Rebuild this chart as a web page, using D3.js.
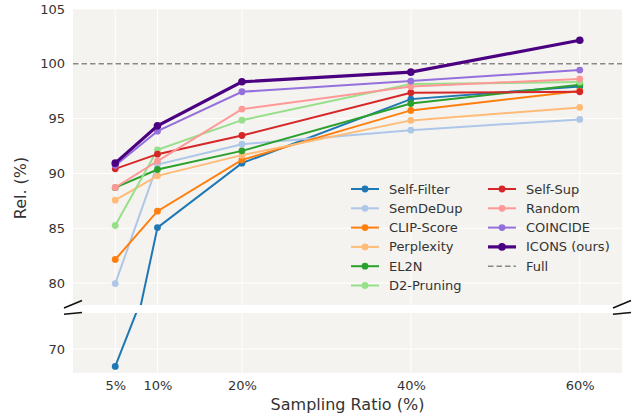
<!DOCTYPE html>
<meta charset="utf-8" />
<script src="https://cdn.jsdelivr.net/npm/d3@7"></script>
<style>
  body { margin: 0; background: #fff; }
  svg text { font-family: "DejaVu Sans", sans-serif; }
</style>
<div id="chart"></div>
<script>
    // sampling ratios (%)
    const ratios = [5, 10, 20, 40, 60];
    const xTicks = ["5%", "10%", "20%", "40%", "60%"];

    const methods = ["Self-Filter", "SemDeDup", "CLIP-Score", "Perplexity", "EL2N",
        "D2-Pruning", "Self-Sup", "Random", "COINCIDE", "ICONS (ours)"];

    const selfFilter = [67.1, 85.06, 90.94, 96.78, 97.93];
    const semDeDup   = [79.95, 90.81, 92.67, 93.95, 94.93];
    const clipScore  = [82.15, 86.56, 91.24, 95.75, 97.52];
    const perplexity = [87.56, 89.78, 91.67, 94.84, 96.02];
    const el2n       = [88.70, 90.36, 92.06, 96.38, 98.10];
    const d2Pruning  = [85.25, 92.15, 94.86, 98.16, 98.33];
    const selfSup    = [90.42, 91.76, 93.46, 97.36, 97.45];
    const random     = [88.72, 91.12, 95.87, 97.93, 98.62];
    const coincide   = [90.72, 93.86, 97.45, 98.43, 99.43];
    const icons      = [90.94, 94.34, 98.36, 99.24, 102.15];
    const full = 100;

    const topTicks = [80, 85, 90, 95, 100, 105];
    const bottomTicks = [70];

    const colors = ["#1f77b4", "#aec7e8", "#ff7f0e", "#ffbb78", "#2ca02c",
        "#98df8a", "#d62728", "#ff9896", "#9370db", "#4b0082"];

    const series = [selfFilter, semDeDup, clipScore, perplexity, el2n,
        d2Pruning, selfSup, random, coincide, icons].map((vals, i) => ({
            name: methods[i], color: colors[i], ours: i === 9,
            points: vals.map((v, j) => ({ r: ratios[j], v: v }))
        }));

    const width = 639, height = 414;
    const left = 73, right = 622;

    const svg = d3.select("#chart").append("svg")
        .attr("width", width).attr("height", height);

    const x = d3.scaleLinear().domain([0, 65]).range([left, right]);
    const yTop = d3.scaleLinear().domain([78, 105]).range([305, 9]);
    const yBot = d3.scaleLinear().domain([66, 76]).range([373, 313]);

    const panels = [{ y: yTop, ticks: topTicks, id: "clipTop" },
                    { y: yBot, ticks: bottomTicks, id: "clipBot" }];

    const defs = svg.append("defs");

    panels.forEach(p => {
        const [y0, y1] = p.y.range();
        defs.append("clipPath").attr("id", p.id)
            .append("rect").attr("x", left).attr("y", y1)
            .attr("width", right - left).attr("height", y0 - y1);

        const g = svg.append("g");
        g.append("rect")
            .attr("x", left).attr("y", y1)
            .attr("width", right - left).attr("height", y0 - y1)
            .attr("fill", "#f4f3f0");

        // grid
        g.selectAll(".hg").data(p.ticks).join("line")
            .attr("x1", left).attr("x2", right)
            .attr("y1", d => p.y(d)).attr("y2", d => p.y(d))
            .attr("stroke", "#ffffff").attr("stroke-width", 1);
        g.selectAll(".vg").data(ratios).join("line")
            .attr("x1", d => x(d)).attr("x2", d => x(d))
            .attr("y1", y1).attr("y2", y0)
            .attr("stroke", "#ffffff").attr("stroke-width", 1);

        // y axis
        const ax = g.append("g")
            .attr("transform", `translate(${left - 4},0)`)
            .call(d3.axisLeft(p.y).tickValues(p.ticks).tickSize(0).tickPadding(4));
        ax.select(".domain").remove();
        ax.selectAll("text").attr("font-size", 13).attr("fill", "#333")
            .attr("font-family", "DejaVu Sans");

        const plot = g.append("g").attr("clip-path", `url(#${p.id})`);

        if (p.id === "clipTop") {
            plot.append("line")
                .attr("x1", left).attr("x2", right)
                .attr("y1", p.y(full)).attr("y2", p.y(full))
                .attr("stroke", "#888").attr("stroke-width", 1.5)
                .attr("stroke-dasharray", "5.5,3");
        }

        const line = d3.line().x(d => x(d.r)).y(d => p.y(d.v));
        series.forEach(s => {
            plot.append("path").datum(s.points)
                .attr("d", line)
                .attr("fill", "none")
                .attr("stroke", s.color)
                .attr("stroke-width", s.ours ? 3.2 : 2);
            plot.selectAll(null).data(s.points).join("circle")
                .attr("cx", d => x(d.r)).attr("cy", d => p.y(d.v))
                .attr("r", s.ours ? 3.8 : 3.4)
                .attr("fill", s.color);
        });
    });

    // x axis labels
    const xa = svg.append("g")
        .attr("transform", "translate(0,378)")
        .call(d3.axisBottom(x).tickValues(ratios).tickFormat((d, i) => xTicks[i]).tickSize(0).tickPadding(3));
    xa.select(".domain").remove();
    xa.selectAll("text").attr("font-size", 13).attr("fill", "#333")
        .attr("font-family", "DejaVu Sans");

    svg.append("text")
        .attr("x", (left + right) / 2).attr("y", 410)
        .attr("text-anchor", "middle")
        .attr("font-size", 16).attr("fill", "#333")
        .text("Sampling Ratio (%)");

    svg.append("text")
        .attr("transform", "translate(26,188) rotate(-90)")
        .attr("text-anchor", "middle")
        .attr("font-size", 16).attr("fill", "#333")
        .text("Rel. (%)");

    // break marks
    [left, right].forEach(cx => {
        svg.append("line")
            .attr("x1", cx - 9).attr("y1", 308).attr("x2", cx + 9).attr("y2", 300.5)
            .attr("stroke", "#111").attr("stroke-width", 1.5);
        svg.append("line")
            .attr("x1", cx - 9).attr("y1", 314.2).attr("x2", cx + 9).attr("y2", 312.5)
            .attr("stroke", "#111").attr("stroke-width", 1.5);
    });

    // legend
    const legendItems = methods.map((m, i) => ({ name: m, color: colors[i], ours: i === 9, dash: false }))
        .concat([{ name: "Full", color: "#888", ours: false, dash: true }]);
    const leg = svg.append("g");
    legendItems.forEach((d, i) => {
        const col = i < 6 ? 0 : 1;
        const row = i < 6 ? i : i - 6;
        const lx = col === 0 ? 351 : 488;
        const ly = 189 + row * 19.3;
        const gi = leg.append("g").attr("transform", `translate(${lx},${ly})`);
        gi.append("line").attr("x1", 0).attr("x2", 28).attr("y1", 0).attr("y2", 0)
            .attr("stroke", d.color).attr("stroke-width", d.ours ? 3.2 : (d.dash ? 1.5 : 2))
            .attr("stroke-dasharray", d.dash ? "5.5,3" : null);
        if (!d.dash) {
            gi.append("circle").attr("cx", 14).attr("cy", 0)
                .attr("r", d.ours ? 3.8 : 3.4).attr("fill", d.color);
        }
        gi.append("text").attr("x", 38).attr("y", 0).attr("dy", "0.35em")
            .attr("font-size", 13).attr("fill", "#333").text(d.name);
    });
</script>
